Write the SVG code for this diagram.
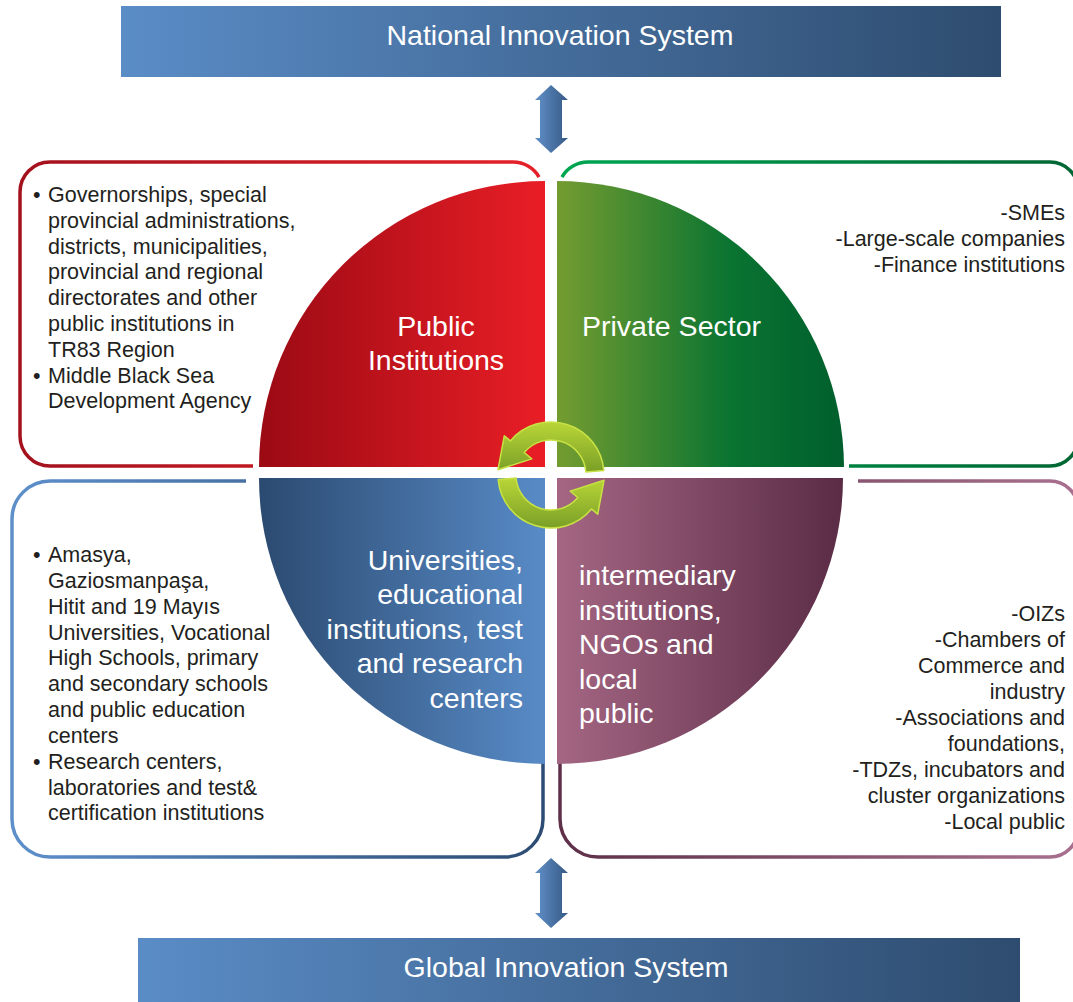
<svg xmlns="http://www.w3.org/2000/svg" width="1073" height="1002" viewBox="0 0 1073 1002">
<style>
.t{font-family:"Liberation Sans",Arial,sans-serif;font-size:21.5px;fill:#231f20}
.w{font-family:"Liberation Sans",Arial,sans-serif;font-size:28.5px;fill:#ffffff}
.e{text-anchor:end}
.m{text-anchor:middle}
.box{fill:none;stroke-width:3.5;stroke-linecap:butt}
</style>
<defs>
<linearGradient id="gBan" x1="0" y1="0" x2="1" y2="0"><stop offset="0" stop-color="#5a8cc6"/><stop offset="1" stop-color="#2e4c6f"/></linearGradient>
<linearGradient id="gArr" x1="0" y1="0" x2="1" y2="0"><stop offset="0" stop-color="#6090c9"/><stop offset="1" stop-color="#365984"/></linearGradient>
<linearGradient id="fRed" gradientUnits="userSpaceOnUse" x1="259" y1="0" x2="545" y2="0"><stop offset="0" stop-color="#9b0a14"/><stop offset="1" stop-color="#e91e26"/></linearGradient>
<linearGradient id="fGreen" gradientUnits="userSpaceOnUse" x1="557" y1="0" x2="844" y2="0"><stop offset="0" stop-color="#749c30"/><stop offset="0.6" stop-color="#0a7431"/><stop offset="1" stop-color="#005f2d"/></linearGradient>
<linearGradient id="fBlue" gradientUnits="userSpaceOnUse" x1="259" y1="0" x2="545" y2="0"><stop offset="0" stop-color="#2b4a70"/><stop offset="1" stop-color="#588bc7"/></linearGradient>
<linearGradient id="fPurple" gradientUnits="userSpaceOnUse" x1="557" y1="0" x2="844" y2="0"><stop offset="0" stop-color="#a46683"/><stop offset="1" stop-color="#5a2b45"/></linearGradient>
<linearGradient id="sRed" gradientUnits="userSpaceOnUse" x1="20" y1="0" x2="543" y2="0"><stop offset="0" stop-color="#a3111d"/><stop offset="1" stop-color="#e52128"/></linearGradient>
<linearGradient id="sGreen" gradientUnits="userSpaceOnUse" x1="560" y1="0" x2="1073" y2="0"><stop offset="0" stop-color="#00a651"/><stop offset="1" stop-color="#006633"/></linearGradient>
<linearGradient id="sBlue" gradientUnits="userSpaceOnUse" x1="12" y1="0" x2="543" y2="0"><stop offset="0" stop-color="#5d8fca"/><stop offset="1" stop-color="#2c4c73"/></linearGradient>
<linearGradient id="sPurple" gradientUnits="userSpaceOnUse" x1="560" y1="0" x2="1073" y2="0"><stop offset="0" stop-color="#5e2f48"/><stop offset="1" stop-color="#a8708e"/></linearGradient>
<linearGradient id="gCyc" x1="0" y1="0" x2="0" y2="1"><stop offset="0" stop-color="#b9d637"/><stop offset="1" stop-color="#7a9f27"/></linearGradient>
</defs>

<g id="national">
<rect x="121" y="6" width="880" height="71" fill="url(#gBan)"/>
<text class="w m" x="560" y="45">National Innovation System</text>
</g>

<g id="global">
<rect x="138" y="938" width="882" height="64" fill="url(#gBan)"/>
<text class="w m" x="566" y="977">Global Innovation System</text>
</g>

<g id="connectors">
<path d="M551 85 L568 100 L562 100 L562 138 L568 138 L551 153 L535 138 L540 138 L540 100 L535 100 Z" fill="url(#gArr)"/>
<path d="M551 858 L568 873 L562 873 L562 913 L568 913 L551 928 L535 913 L540 913 L540 873 L535 873 Z" fill="url(#gArr)"/>
</g>

<g id="public-box">
<path class="box" stroke="url(#sRed)" d="M253 466 L50 466 A30 30 0 0 1 20 436 L20 192 A30 30 0 0 1 50 162 L513 162 A30 30 0 0 1 539 177"/>
<text class="t" x="33" y="202">•</text>
<text class="t"><tspan x="48" y="202">Governorships, special</tspan><tspan x="48" y="228">provincial administrations,</tspan><tspan x="48" y="254">districts, municipalities,</tspan><tspan x="48" y="279">provincial and regional</tspan><tspan x="48" y="305">directorates and other</tspan><tspan x="48" y="331">public institutions in</tspan><tspan x="48" y="357">TR83 Region</tspan></text>
<text class="t" x="33" y="383">•</text>
<text class="t"><tspan x="48" y="383">Middle Black Sea</tspan><tspan x="48" y="408">Development Agency</tspan></text>
</g>

<g id="private-box">
<path class="box" stroke="url(#sGreen)" d="M562 177 A30 30 0 0 1 588 162 L1050 162 A28 28 0 0 1 1078 190 L1078 438 A28 28 0 0 1 1050 466 L849 466"/>
<text class="t e"><tspan x="1065" y="220">-SMEs</tspan><tspan x="1065" y="246">-Large-scale companies</tspan><tspan x="1065" y="272">-Finance institutions</tspan></text>
</g>

<g id="universities-box">
<path class="box" stroke="url(#sBlue)" d="M246 481 L50 481 A38 38 0 0 0 12 519 L12 819 A38 38 0 0 0 50 857 L505 857 A38 38 0 0 0 543 819 L543 763"/>
<text class="t" x="33" y="562">•</text>
<text class="t"><tspan x="48" y="562">Amasya,</tspan><tspan x="48" y="588">Gaziosmanpaşa,</tspan><tspan x="48" y="614">Hitit and 19 Mayıs</tspan><tspan x="48" y="640">Universities, Vocational</tspan><tspan x="48" y="665">High Schools, primary</tspan><tspan x="48" y="691">and secondary schools</tspan><tspan x="48" y="717">and public education</tspan><tspan x="48" y="743">centers</tspan></text>
<text class="t" x="33" y="769">•</text>
<text class="t"><tspan x="48" y="769">Research centers,</tspan><tspan x="48" y="795">laboratories and test&amp;</tspan><tspan x="48" y="820">certification institutions</tspan></text>
</g>

<g id="intermediary-box">
<path class="box" stroke="url(#sPurple)" d="M858 481 L1050 481 A28 28 0 0 1 1078 509 M1078 829 A28 28 0 0 1 1050 857 L598 857 A38 38 0 0 1 560 819 L560 763"/>
<text class="t e"><tspan x="1065" y="621">-OIZs</tspan><tspan x="1065" y="647">-Chambers of</tspan><tspan x="1065" y="673">Commerce and</tspan><tspan x="1065" y="699">industry</tspan><tspan x="1065" y="725">-Associations and</tspan><tspan x="1065" y="751">foundations,</tspan><tspan x="1065" y="777">-TDZs, incubators and</tspan><tspan x="1065" y="803">cluster organizations</tspan><tspan x="1065" y="829">-Local public</tspan></text>
</g>

<g id="public-institutions">
<path d="M545 467 L259 467 A286 286 0 0 1 545 181 Z" fill="url(#fRed)"/>
<text class="w m"><tspan x="436" y="336">Public</tspan><tspan x="436" y="370">Institutions</tspan></text>
</g>

<g id="private-sector">
<path d="M557 467 L557 181 A287 287 0 0 1 844 467 Z" fill="url(#fGreen)"/>
<text class="w" x="582" y="336">Private Sector</text>
</g>

<g id="universities">
<path d="M545 478 L545 764 A286 286 0 0 1 259 478 Z" fill="url(#fBlue)"/>
<text class="w e"><tspan x="523" y="570">Universities,</tspan><tspan x="523" y="604">educational</tspan><tspan x="523" y="639">institutions, test</tspan><tspan x="523" y="673">and research</tspan><tspan x="523" y="708">centers</tspan></text>
</g>

<g id="intermediary">
<path d="M557 478 L843 478 A286 286 0 0 1 557 764 Z" fill="url(#fPurple)"/>
<text class="w"><tspan x="579" y="585">intermediary</tspan><tspan x="579" y="620">institutions,</tspan><tspan x="579" y="654">NGOs and</tspan><tspan x="579" y="689">local</tspan><tspan x="579" y="723">public</tspan></text>
</g>

<g id="cycle" transform="translate(551 475)" stroke="#c8e244" stroke-width="1.5" stroke-linejoin="round">
<path d="M52.8 -4.6 A53 53 0 0 0 -40.6 -34.1 L-46.7 -39.2 L-53 -5.3 L-19.2 -16.1 L-26.8 -22.5 A35 35 0 0 1 34.9 -3.1 Z" fill="url(#gCyc)"/>
<path d="M-52.8 4.6 A53 53 0 0 0 40.6 34.1 L46.7 39.2 L53 5.3 L19.2 16.1 L26.8 22.5 A35 35 0 0 1 -34.9 3.1 Z" fill="url(#gCyc)"/>
</g>
</svg>
